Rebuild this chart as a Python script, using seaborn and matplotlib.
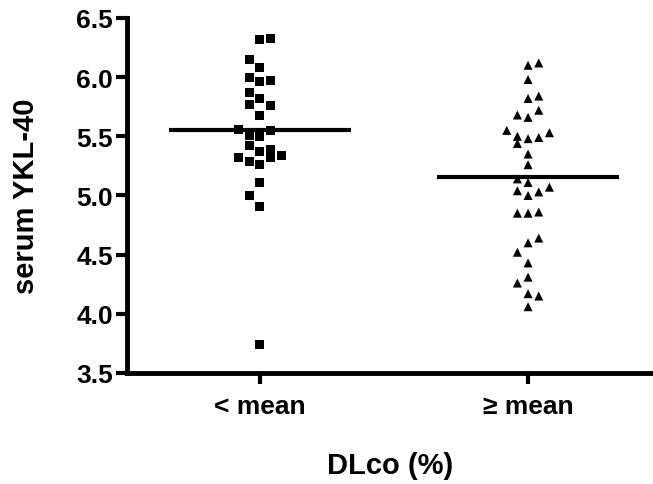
import matplotlib
matplotlib.use("Agg")
import matplotlib.pyplot as plt
import seaborn as sns
import pandas as pd
import numpy as np

# ---- data ----
categories = ["< mean", "≥ mean"]

group1_values = [6.32, 6.33, 6.15, 6.08, 6.00, 5.96, 5.97, 5.87, 5.82, 5.77,
                 5.76, 5.68, 5.56, 5.51, 5.50, 5.55, 5.42, 5.37, 5.39, 5.32,
                 5.34, 5.32, 5.29, 5.26, 5.11, 5.00, 4.91, 3.74]
group1_slots = [0, 1, -1, 0, -1, 0, 1, -1, 0, -1,
                1, 0, -2, -1, 0, 1, -1, 0, 1, 1,
                2, -2, -1, 0, 0, -1, 0, 0]

group2_values = [6.10, 6.12, 5.98, 5.82, 5.84, 5.68, 5.66, 5.72, 5.55, 5.50,
                 5.44, 5.48, 5.49, 5.53, 5.35, 5.26, 5.14, 5.11, 5.04, 5.00,
                 5.03, 5.07, 4.85, 4.85, 4.86, 4.60, 4.64, 4.52, 4.43, 4.31,
                 4.26, 4.17, 4.15, 4.06]
group2_slots = [0, 1, 0, 0, 1, -1, 0, 1, -2, -1,
                -1, 0, 1, 2, 0, 0, -1, 0, -1, 0,
                1, 2, -1, 0, 1, 0, 1, -1, 0, 0,
                -1, 0, 1, 0]

center_lines = [5.553, 5.154]

y_ticks = [3.5, 4.0, 4.5, 5.0, 5.5, 6.0, 6.5]

# ---- build table ----
slot_spacing = 0.0398
rows = []
for gi, (vals, slots) in enumerate([(group1_values, group1_slots),
                                    (group2_values, group2_slots)]):
    for v, s in zip(vals, slots):
        rows.append({"group": categories[gi], "xpos": gi + s * slot_spacing, "value": v})
df = pd.DataFrame(rows)

sns.set_style("ticks")
plt.rcParams["font.family"] = ["Liberation Sans", "DejaVu Sans"]
plt.rcParams["font.weight"] = "bold"
plt.rcParams["text.color"] = "black"
plt.rcParams["axes.labelcolor"] = "black"
plt.rcParams["xtick.color"] = "black"
plt.rcParams["ytick.color"] = "black"
plt.rcParams["xtick.labelcolor"] = "black"
plt.rcParams["ytick.labelcolor"] = "black"

fig = plt.figure(figsize=(6.53, 4.85), dpi=100)
ax = fig.add_axes([0.1945, 0.2289, 0.8055, 0.732])

sns.scatterplot(data=df, x="xpos", y="value", style="group",
                markers={"< mean": "s", "≥ mean": "^"},
                hue="group", palette={"< mean": "black", "≥ mean": "black"},
                s=42, edgecolor="none", linewidth=0, legend=False, ax=ax)

half = 0.34
for gi, m in enumerate(center_lines):
    ax.hlines(m, gi - half, gi + half, color="black", linewidth=3.0, zorder=3)

ax.set_xlim(-0.496, 1.466)
ax.set_ylim(3.5, 6.5)
ax.set_yticks(y_ticks)
ax.set_yticklabels([f"{t:.1f}" for t in y_ticks])
ax.set_xticks([0, 1])
ax.set_xticklabels(categories)

for side in ["top", "right"]:
    ax.spines[side].set_visible(False)
for side in ["left", "bottom"]:
    ax.spines[side].set_linewidth(3.5)
    ax.spines[side].set_color("black")
    ax.spines[side].set_capstyle("projecting")

ax.tick_params(axis="both", length=8, width=3, color="black", labelcolor="black",
               labelsize=19, pad=2)
ax.tick_params(axis="x", pad=7)
for lab in ax.get_xticklabels() + ax.get_yticklabels():
    lab.set_fontweight("bold")
    lab.set_color("black")

ax.set_ylabel("serum YKL-40", fontsize=21, fontweight="bold", labelpad=26, color="black")
ax.set_xlabel("DLco (%)", fontsize=21, fontweight="bold", labelpad=24, color="black")

fig.savefig("out.png", dpi=100)
